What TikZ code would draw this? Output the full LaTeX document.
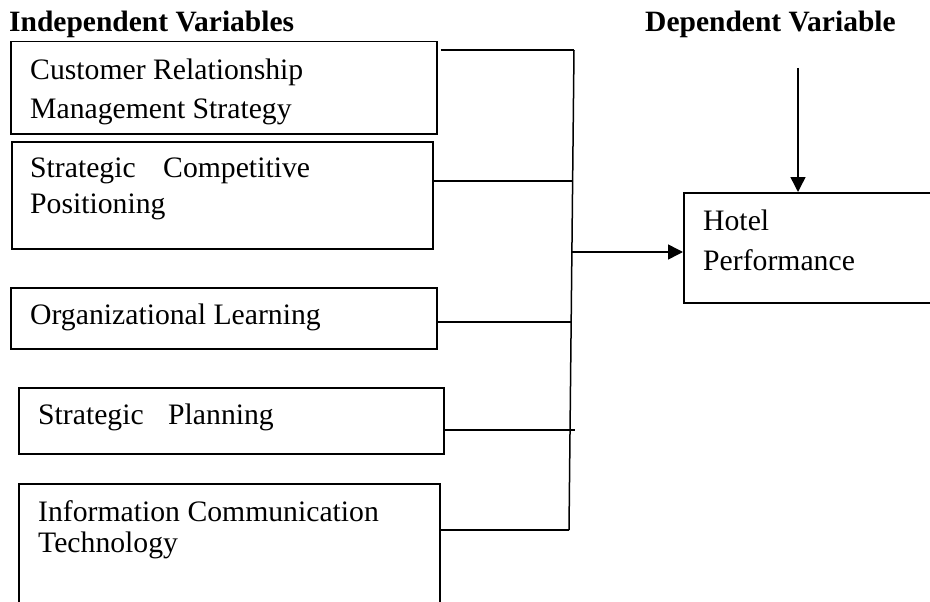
\documentclass[tikz,border=0pt]{standalone}
\usepackage{fontspec}
\setmainfont{Liberation Serif}
\usetikzlibrary{arrows.meta}
\begin{document}
\begin{tikzpicture}[x=1pt,y=-1pt,
  box/.style={draw, line width=1.5pt, rectangle, inner sep=0pt, anchor=north west},
  txt/.style={anchor=base west, inner sep=0pt, font=\fontsize{29.7}{36}\selectfont},
  ttl/.style={anchor=base west, inner sep=0pt, font=\fontsize{29.5}{36}\selectfont\bfseries},
  wire/.style={line width=1.5pt},
  arr/.style={line width=1.5pt, -{Triangle[length=15pt,width=15pt]}}]
\useasboundingbox (0,0) rectangle (930,602);
% titles
\node[ttl] (tind) at (9,32) {Independent Variables};
\node[ttl] (tdep) at (645,32) {Dependent Variable};
% boxes
\node[box, minimum width=426pt, minimum height=92pt] (crm) at (10,41) {};
\node[box, minimum width=421pt, minimum height=107pt] (scp) at (11,141) {};
\node[box, minimum width=426pt, minimum height=61pt] (orl) at (10,287) {};
\node[box, minimum width=425pt, minimum height=66pt] (spl) at (18,387) {};
\node[box, minimum width=421pt, minimum height=135pt] (ict) at (18,483) {};
\node[box, minimum width=290pt, minimum height=110pt] (hot) at (683,192) {};
% texts
\node[txt] (t1a) at (30,80) {Customer Relationship};
\node[txt] (t1b) at (30,118) {Management Strategy};
\node[txt] (t2a) at (30,177) {Strategic\hspace{20pt} Competitive};
\node[txt] (t2b) at (30,213) {Positioning};
\node[txt] (t3) at (30,324) {Organizational Learning};
\node[txt] (t4) at (38,424) {Strategic\hspace{17pt} Planning};
\node[txt] (t5a) at (38,521) {Information Communication};
\node[txt] (t5b) at (38,552) {Technology};
\node[txt] (t6a) at (703,230) {Hotel};
\node[txt] (t6b) at (703,270) {Performance};
% bus
\coordinate (j1) at (574,50);
\coordinate (j2) at (573,181);
\coordinate (j3) at (572,322);
\coordinate (j4) at (575,430);
\coordinate (j5) at (569,530);
\coordinate (ja) at (571,252);
\coordinate (dtop) at (798,68);
\draw[wire] (j1) -- (j5);
\draw[wire] ([xshift=3pt]crm.east |- j1) -- (j1);
\draw[wire] (scp.east |- j2) -- (j2);
\draw[wire] (orl.east |- j3) -- (j3);
\draw[wire] (spl.east |- j4) -- (j4);
\draw[wire] (ict.east |- j5) -- (j5);
\draw[arr] (ja) -- (hot.west |- ja);
\draw[arr] (dtop) -- (hot.north -| dtop);
\end{tikzpicture}
\end{document}
